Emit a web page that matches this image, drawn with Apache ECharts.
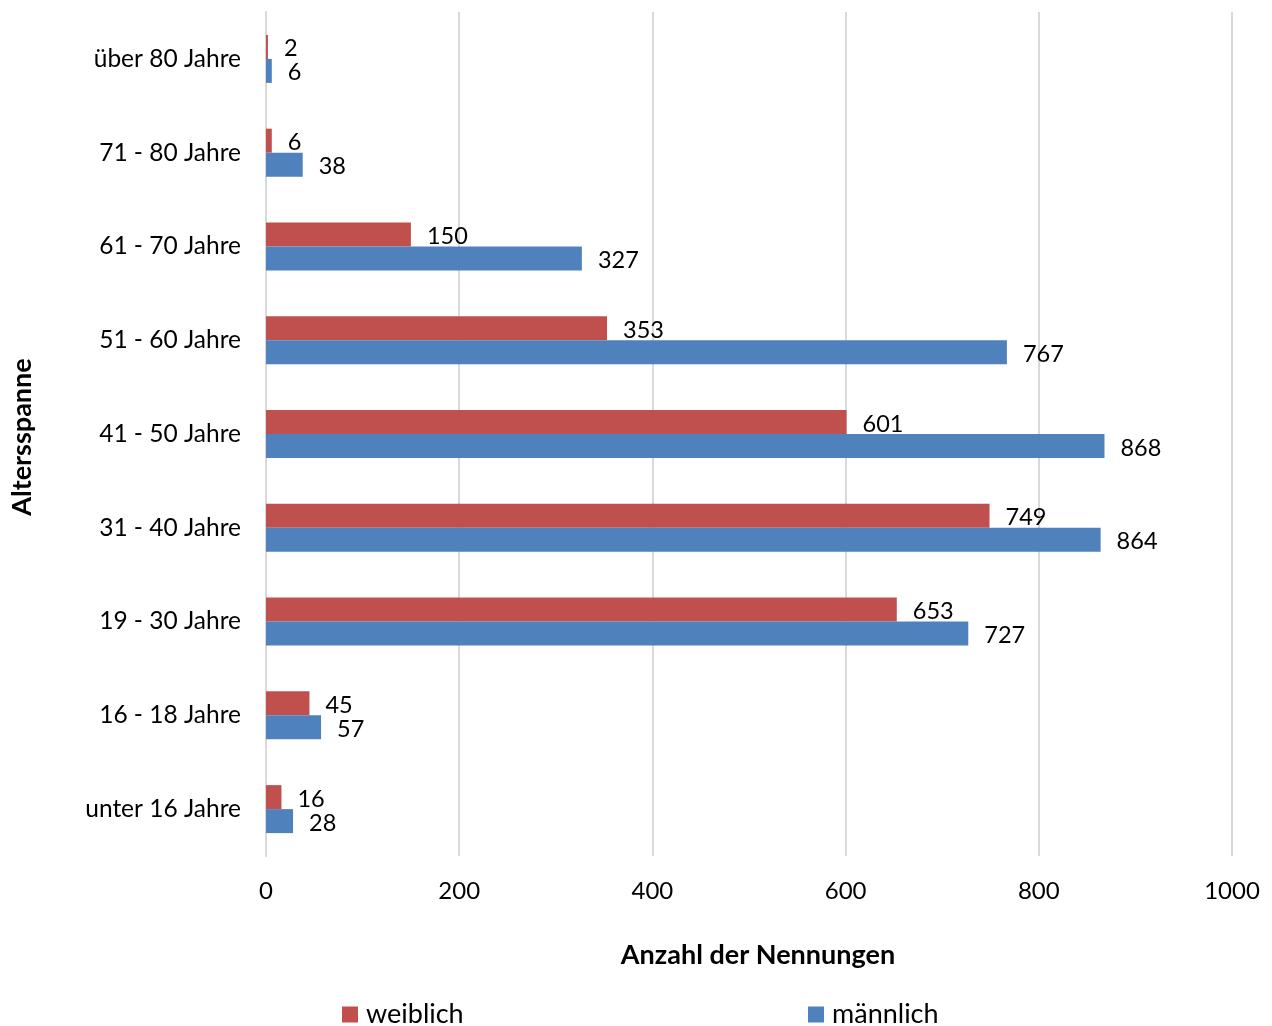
<!DOCTYPE html>
<html><head><meta charset="utf-8">
<script src="https://cdn.jsdelivr.net/npm/echarts@6/dist/echarts.min.js"></script>
<style>html,body{margin:0;padding:0;background:#fff}#c{width:1272px;height:1026px}</style>
</head><body><div id="c"></div>
<script>
const categories = ['unter 16 Jahre','16 - 18 Jahre','19 - 30 Jahre','31 - 40 Jahre','41 - 50 Jahre','51 - 60 Jahre','61 - 70 Jahre','71 - 80 Jahre','über 80 Jahre'];
const weiblich = [16,45,653,749,601,353,150,6,2];
const maennlich = [28,57,727,864,868,767,327,38,6];
const xTicks = [0,200,400,600,800,1000];
const FONT = 'Lato';
const chart = echarts.init(document.getElementById('c'));
const labelStyle = {show:true, position:'right', distance:16, offset:[0,2], color:'#000', fontFamily:FONT, fontSize:23.5};
chart.setOption({
  animation:false,
  textStyle:{fontFamily:FONT},
  grid:{left:266, right:40, top:12, bottom:170, containLabel:false},
  xAxis:{type:'value', min:xTicks[0], max:xTicks[xTicks.length-1], interval:200,
    axisLine:{show:false}, axisTick:{show:false},
    splitLine:{show:true, lineStyle:{color:'#d9d9d9', width:2}},
    axisLabel:{color:'#000', fontSize:24, fontFamily:FONT, margin:23, formatter:v=>String(v)}},
  yAxis:{type:'category', data:categories,
    axisLine:{show:true, lineStyle:{color:'#d9d9d9', width:2}}, axisTick:{show:false},
    axisLabel:{color:'#000', fontSize:24.5, fontFamily:FONT, margin:25}},
  legend:[
    {data:['weiblich'], left:342, top:1001, padding:0, itemWidth:16, itemHeight:16, icon:'rect',
     textStyle:{fontSize:27, fontFamily:FONT, color:'#000', padding:[0,0,0,3]}},
    {data:['männlich'], left:808, top:1001, padding:0, itemWidth:16, itemHeight:16, icon:'rect',
     textStyle:{fontSize:27, fontFamily:FONT, color:'#000', padding:[0,0,0,3]}}
  ],
  graphic:[
    {type:'text', x:758, y:955, style:{text:'Anzahl der Nennungen', textAlign:'center', textVerticalAlign:'middle', fontSize:27, fontWeight:'bold', fontFamily:FONT, fill:'#000'}},
    {type:'text', rotation:Math.PI/2, x:22, y:437, style:{text:'Altersspanne', textAlign:'center', textVerticalAlign:'middle', fontSize:27, fontWeight:'bold', fontFamily:FONT, fill:'#000'}}
  ],
  series:[
    {name:'weiblich', type:'bar', data:weiblich, barWidth:24, barGap:0, itemStyle:{color:'#C0504D'}, label:labelStyle},
    {name:'männlich', type:'bar', data:maennlich, barWidth:24, barGap:0, itemStyle:{color:'#4F81BD'}, label:labelStyle}
  ]
});
</script></body></html>
